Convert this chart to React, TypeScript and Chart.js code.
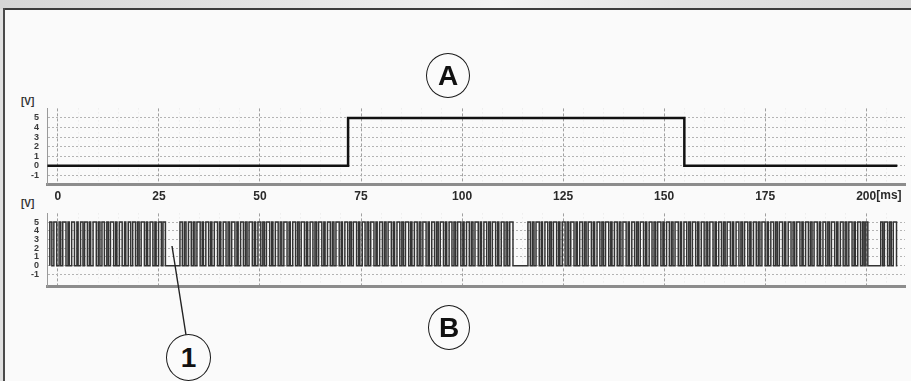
import React, { useEffect, useRef } from "react";
import { Chart, registerables } from "chart.js";

Chart.register(...registerables);

// ---------- data ----------
const X_MIN = -2.7;
const X_MAX = 209.6;
const X_MAJOR_TICKS = [0, 25, 50, 75, 100, 125, 150, 175, 200];
const X_MINOR_TICKS = [5, 10, 15, 20, 30, 35, 40, 45, 55, 60, 65, 70, 80, 85, 90, 95, 105, 110, 115, 120, 130, 135, 140, 145, 155, 160, 165, 170, 180, 185, 190, 195, 205];
const Y_TICKS = [-1, 0, 1, 2, 3, 4, 5];

// Signal A: times (ms) and levels (V)
const A_TIMES = [-2.6, 71.8, 155.0, 207.7];
const A_LEVELS = [0, 5, 0];

// Signal B: pulse bursts, edges alternate rise / fall (ms)
const B_START = -2.0;
const B_END = 207.7;
const B_HIGH = 5;
const BURST_1 = [
  -2.0, -1.5, -1.0, -0.3, 0.3, 0.7, 1.2, 2.0, 2.5, 2.8, 3.4, 4.1, 4.7, 5.0, 5.6, 6.2, 6.6, 7.3, 7.8, 8.1,
  8.7, 9.5, 10.0, 10.4, 10.9, 11.5, 12.1, 12.5, 13.0, 13.8, 14.3, 14.6, 15.2, 15.9, 16.5, 16.8, 17.4, 18.0,
  18.5, 19.2, 19.7, 20.1, 20.6, 21.4, 21.9, 22.2, 22.8, 23.5, 24.0, 24.3, 24.9, 25.6, 26.0, 26.6,
];
const BURST_2 = [
  30.2, 30.8, 31.3, 31.7, 32.3, 33.0, 33.5, 33.9, 34.4, 35.2, 35.7, 36.0, 36.6, 37.3, 37.8, 38.1, 38.7, 39.5,
  40.0, 40.3, 40.9, 41.6, 42.1, 42.5, 43.0, 43.8, 44.3, 44.6, 45.2, 45.9, 46.4, 46.8, 47.3, 48.1, 48.6, 48.9,
  49.5, 50.2, 50.7, 51.1, 51.6, 52.4, 52.9, 53.2, 53.8, 54.5, 55.0, 55.4, 55.9, 56.7, 57.2, 57.5, 58.1, 58.8,
  59.3, 59.7, 60.2, 61.0, 61.5, 61.8, 62.4, 63.1, 63.6, 64.0, 64.5, 65.3, 65.8, 66.1, 66.7, 67.4, 67.9, 68.3,
  68.8, 69.6, 70.1, 70.4, 71.0, 71.7, 72.2, 72.6, 73.1, 73.9, 74.4, 74.7, 75.3, 76.0, 76.5, 76.9, 77.4, 78.2,
  78.7, 79.0, 79.6, 80.3, 80.8, 81.2, 81.7, 82.5, 83.0, 83.3, 83.9, 84.6, 85.1, 85.5, 86.0, 86.8, 87.3, 87.6,
  88.2, 88.9, 89.4, 89.8, 90.3, 91.1, 91.6, 91.9, 92.5, 93.2, 93.7, 94.1, 94.6, 95.4, 95.9, 96.2, 96.8, 97.5,
  98.0, 98.4, 98.9, 99.7, 100.2, 100.5, 101.1, 101.8, 102.3, 102.7, 103.2, 104.0, 104.5, 104.8, 105.4, 106.1,
  106.6, 107.0, 107.5, 108.3, 108.8, 109.1, 109.7, 110.4, 110.9, 111.3, 111.8, 112.6,
];
const BURST_3 = [
  116.3, 116.9, 117.4, 117.8, 118.3, 119.1, 119.6, 119.9, 120.5, 121.2, 121.7, 122.1, 122.6, 123.4, 123.9, 124.2,
  124.8, 125.5, 126.0, 126.4, 126.9, 127.7, 128.2, 128.5, 129.1, 129.8, 130.3, 130.7, 131.2, 132.0, 132.5, 132.8,
  133.4, 134.1, 134.6, 135.0, 135.5, 136.3, 136.8, 137.1, 137.7, 138.4, 138.9, 139.3, 139.8, 140.6, 141.1, 141.4,
  142.0, 142.7, 143.2, 143.6, 144.1, 144.9, 145.4, 145.7, 146.3, 147.0, 147.5, 147.9, 148.4, 149.2, 149.7, 150.0,
  150.6, 151.3, 151.8, 152.2, 152.7, 153.5, 154.0, 154.3, 154.9, 155.6, 156.1, 156.5, 157.0, 157.8, 158.3, 158.6,
  159.2, 159.9, 160.4, 160.8, 161.3, 162.1, 162.6, 162.9, 163.5, 164.2, 164.7, 165.1, 165.6, 166.4, 166.9, 167.2,
  167.8, 168.5, 169.0, 169.4, 169.9, 170.7, 171.2, 171.5, 172.1, 172.8, 173.3, 173.7, 174.2, 175.0, 175.5, 175.8,
  176.4, 177.1, 177.6, 178.0, 178.5, 179.3, 179.8, 180.1, 180.7, 181.4, 181.9, 182.3, 182.8, 183.6, 184.1, 184.4,
  185.0, 185.7, 186.2, 186.6, 187.1, 187.9, 188.4, 188.7, 189.3, 190.0, 190.5, 190.9, 191.4, 192.2, 192.7, 193.0,
  193.6, 194.3, 194.8, 195.2, 195.7, 196.5, 197.0, 197.3, 197.9, 198.6, 199.1, 199.5, 199.9, 200.4,
];
const BURST_4 = [203.6, 204.1, 204.5, 205.3, 205.8, 206.2, 206.7, 207.5];

// ---------- helpers ----------
type P = { x: number; y: number };

function buildA(): P[] {
  const pts: P[] = [{ x: A_TIMES[0], y: A_LEVELS[0] }];
  for (let i = 1; i < A_TIMES.length - 1; i++) {
    pts.push({ x: A_TIMES[i], y: A_LEVELS[i - 1] });
    pts.push({ x: A_TIMES[i], y: A_LEVELS[i] });
  }
  pts.push({ x: A_TIMES[A_TIMES.length - 1], y: A_LEVELS[A_LEVELS.length - 1] });
  return pts;
}

function buildB(): P[] {
  const pts: P[] = [{ x: B_START, y: 0 }];
  [BURST_1, BURST_2, BURST_3, BURST_4].forEach((edges) => {
    let level = 0;
    edges.forEach((t) => {
      const next = level === 0 ? B_HIGH : 0;
      pts.push({ x: t, y: level });
      pts.push({ x: t, y: next });
      level = next;
    });
  });
  pts.push({ x: B_END, y: 0 });
  return pts;
}

const FONT = '"Liberation Sans", Arial, sans-serif';
const X_TICK_VALUES = [...X_MAJOR_TICKS, ...X_MINOR_TICKS].sort((a, b) => a - b);

const msUnitPlugin = {
  id: "msUnit",
  afterDraw(chart: any) {
    const xs = chart.scales.x;
    const ctx = chart.ctx;
    ctx.save();
    ctx.font = `bold 12px ${FONT}`;
    const px = xs.getPixelForValue(X_MAJOR_TICKS[X_MAJOR_TICKS.length - 1]);
    const w = ctx.measureText(String(X_MAJOR_TICKS[X_MAJOR_TICKS.length - 1])).width;
    ctx.fillStyle = "#2a2a2a";
    ctx.textBaseline = "middle";
    ctx.textAlign = "left";
    ctx.fillText("[ms]", px + w / 2, xs.top + 11.5);
    ctx.restore();
  },
};

function makeOptions(showX: boolean, yMin: number, yMax: number, padTop: number, padBottom: number, xHeight: number) {
  return {
    animation: false as const,
    responsive: false,
    devicePixelRatio: 1,
    layout: { padding: { left: 0, right: 6, top: padTop, bottom: padBottom } },
    plugins: { legend: { display: false }, tooltip: { enabled: false } },
    elements: { point: { radius: 0 }, line: { tension: 0 } },
    scales: {
      x: {
        type: "linear" as const,
        min: X_MIN,
        max: X_MAX,
        afterBuildTicks: (s: any) => {
          s.ticks = X_TICK_VALUES.map((v) => ({ value: v }));
        },
        afterFit: (s: any) => {
          s.height = xHeight;
        },
        ticks: {
          display: showX,
          autoSkip: false,
          maxRotation: 0,
          padding: 5,
          color: "#2a2a2a",
          font: { family: FONT, size: 12, weight: "bold" as const },
          callback: (v: any) => (X_MAJOR_TICKS.includes(Number(v)) ? String(v) : ""),
        },
        grid: {
          drawTicks: false,
          color: (c: any) => (c.tick && X_MAJOR_TICKS.includes(c.tick.value) ? "#a0a0a0" : "#e6e6e6"),
          lineWidth: 1,
        },
        border: {
          display: true,
          color: "#8c8c8c",
          width: 3,
          dash: (c: any) => (c.tick && X_MAJOR_TICKS.includes(c.tick.value) ? [3, 2] : [1, 3]),
        },
      },
      y: {
        type: "linear" as const,
        min: yMin,
        max: yMax,
        afterBuildTicks: (s: any) => {
          s.ticks = Y_TICKS.map((v) => ({ value: v }));
        },
        afterFit: (s: any) => {
          s.width = 47;
        },
        ticks: {
          autoSkip: false,
          padding: 8,
          color: "#3a3a3a",
          font: { family: FONT, size: 9, weight: "bold" as const },
        },
        grid: { drawTicks: false, color: "#b4b4b4", lineWidth: 1 },
        border: { display: true, color: "#9a9a9a", width: 1, dash: [2, 2] },
      },
    },
  };
}

function ChartA() {
  const ref = useRef<HTMLCanvasElement>(null);
  useEffect(() => {
    const chart = new Chart(ref.current as HTMLCanvasElement, {
      type: "line",
      data: {
        datasets: [
          {
            data: buildA(),
            borderColor: "#111111",
            borderWidth: 2.5,
            pointRadius: 0,
            fill: false,
          },
        ],
      },
      options: makeOptions(true, -1.9, 6, 10, 0, 22) as any,
      plugins: [msUnitPlugin],
    });
    return () => chart.destroy();
  }, []);
  return <canvas ref={ref} width={911} height={111} style={{ position: "absolute", left: 0, top: 95, width: 911, height: 111 }} />;
}

function ChartB() {
  const ref = useRef<HTMLCanvasElement>(null);
  useEffect(() => {
    const chart = new Chart(ref.current as HTMLCanvasElement, {
      type: "line",
      data: {
        datasets: [
          {
            data: buildB(),
            borderColor: "#333333",
            borderWidth: 1.5,
            pointRadius: 0,
            fill: false,
          },
        ],
      },
      options: makeOptions(false, -2.4, 6, 11, 6, 0) as any,
    });
    return () => chart.destroy();
  }, []);
  return <canvas ref={ref} width={911} height={100} style={{ position: "absolute", left: 0, top: 200, width: 911, height: 100 }} />;
}

function Badge({ label, left, top, w, h }: { label: string; left: number; top: number; w: number; h: number }) {
  return (
    <div
      style={{
        position: "absolute",
        left,
        top,
        width: w,
        height: h,
        boxSizing: "border-box",
        border: "1.6px solid #1a1a1a",
        borderRadius: "50%",
        display: "flex",
        alignItems: "center",
        justifyContent: "center",
        fontFamily: FONT,
        fontWeight: "bold",
        fontSize: 28,
        color: "#111",
        background: "#fbfbfb",
      }}
    >
      {label}
    </div>
  );
}

export default function App() {
  return (
    <div
      style={{
        position: "fixed",
        left: 0,
        top: 0,
        width: 911,
        height: 381,
        overflow: "hidden",
        background: "#fafafa",
      }}
    >
      <div
        style={{
          position: "absolute",
          left: 0,
          top: 0,
          width: 911,
          height: 9,
          background: "linear-gradient(100deg, #d6d6d6 0%, #e4e4e4 30%, #f2f2f2 55%, #e2e2e2 75%, #d9d9d9 100%)",
        }}
      />
      <div style={{ position: "absolute", left: 0, top: 9, width: 3, height: 372, background: "#e0e0e0" }} />
      <div style={{ position: "absolute", left: 3, top: 8, width: 908, height: 2, background: "#3c3c3c" }} />
      <div style={{ position: "absolute", left: 3, top: 8, width: 2, height: 373, background: "#4a4a4a" }} />

      <div style={{ position: "absolute", left: 21, top: 96, fontFamily: FONT, fontWeight: "bold", fontSize: 10, color: "#333" }}>[V]</div>
      <div style={{ position: "absolute", left: 21, top: 198, fontFamily: FONT, fontWeight: "bold", fontSize: 10, color: "#333" }}>[V]</div>

      <ChartA />
      <ChartB />

      <svg style={{ position: "absolute", left: 0, top: 0 }} width={911} height={381}>
        <line x1={172} y1={246} x2={186} y2={335} stroke="#222" strokeWidth={1.4} />
      </svg>

      <Badge label="A" left={426} top={53} w={44} h={45} />
      <Badge label="B" left={428} top={305} w={42} h={45} />
      <Badge label="1" left={166} top={334} w={45} h={47} />
    </div>
  );
}
